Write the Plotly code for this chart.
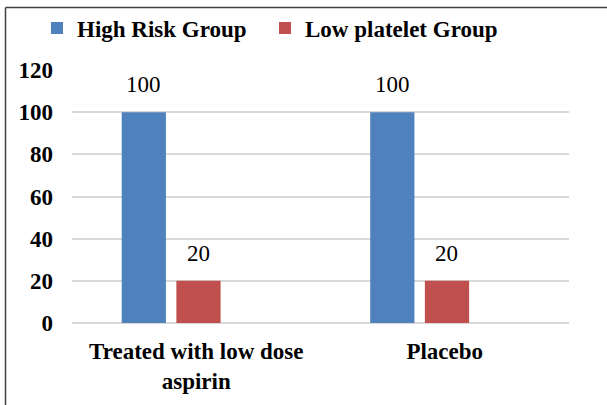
import plotly.graph_objects as go

categories = ["Treated with low dose<br>aspirin", "Placebo"]
series_names = ["High Risk Group", "Low platelet Group"]
high_risk = [100, 100]
low_platelet = [20, 20]
y_ticks = [0, 20, 40, 60, 80, 100, 120]

colors = ["#4F81BD", "#C0504D"]
offsets = [-0.30, -0.08]
legend_ids = ["legend", "legend2"]
legend_x_px = [37, 265]
bar_w = 0.178
FONT = "Liberation Serif, Times New Roman, serif"
FS = 23

W, H = 607, 405
ml, mr, mt, mb = 72, 38, 70, 82
pw, ph = W - ml - mr, H - mt - mb


def px_x(p):
    return (p - ml) / pw


def px_y(p):
    return (H - mb - p) / ph


fig = go.Figure()
annotations = []
for name, vals, col, off, lg in zip(series_names, [high_risk, low_platelet], colors, offsets, legend_ids):
    fig.add_trace(go.Bar(
        name=name, x=list(range(len(categories))), y=vals,
        marker=dict(color=col, line=dict(width=0)),
        offset=off, width=bar_w, legend=lg,
    ))
    for i, v in enumerate(vals):
        annotations.append(dict(
            x=i + off + bar_w / 2, y=v, xref="x", yref="y",
            text=str(v), showarrow=False, yanchor="bottom", yshift=13,
            font=dict(family=FONT, size=FS, color="#000000"),
        ))

shapes = [
    dict(type="line", xref="paper", yref="paper", x0=px_x(5.5), x1=px_x(5.5),
         y0=px_y(7.5), y1=px_y(420), line=dict(color="#404040", width=1.5)),
    dict(type="line", xref="paper", yref="paper", x0=px_x(5.5), x1=px_x(620),
         y0=px_y(7.5), y1=px_y(7.5), line=dict(color="#404040", width=1.5)),
]

legend_common = dict(orientation="h", xanchor="left", y=px_y(28), yanchor="middle",
                     font=dict(family=FONT, size=FS, weight="bold", color="#000000"),
                     bgcolor="rgba(0,0,0,0)")

fig.update_layout(
    width=W, height=H,
    margin=dict(l=ml, r=mr, t=mt, b=mb, autoexpand=False),
    paper_bgcolor="white", plot_bgcolor="white",
    font=dict(family=FONT, color="#000000"),
    barmode="group",
    showlegend=True,
    legend=dict(x=px_x(legend_x_px[0]), **legend_common),
    legend2=dict(x=px_x(legend_x_px[1]), **legend_common),
    xaxis=dict(
        tickmode="array", tickvals=list(range(len(categories))), ticktext=categories,
        range=[-0.5, len(categories) - 0.5],
        showgrid=False, zeroline=False, showline=False, ticks="",
        tickfont=dict(family=FONT, size=FS, weight="bold", color="#000000"),
        ticklabelstandoff=12,
    ),
    yaxis=dict(
        range=[0, 120], tickvals=y_ticks, showgrid=True, gridcolor="#D9D9D9", gridwidth=1.5,
        zeroline=True, zerolinecolor="#D9D9D9", zerolinewidth=1.5,
        showline=False, ticks="",
        tickfont=dict(family=FONT, size=FS, weight="bold", color="#000000"),
        ticklabelstandoff=18,
    ),
    annotations=annotations,
    shapes=shapes,
)

fig.write_html("out.html", config={"displayModeBar": False},
               post_script="document.body.style.margin='0';document.body.style.overflow='hidden';")
